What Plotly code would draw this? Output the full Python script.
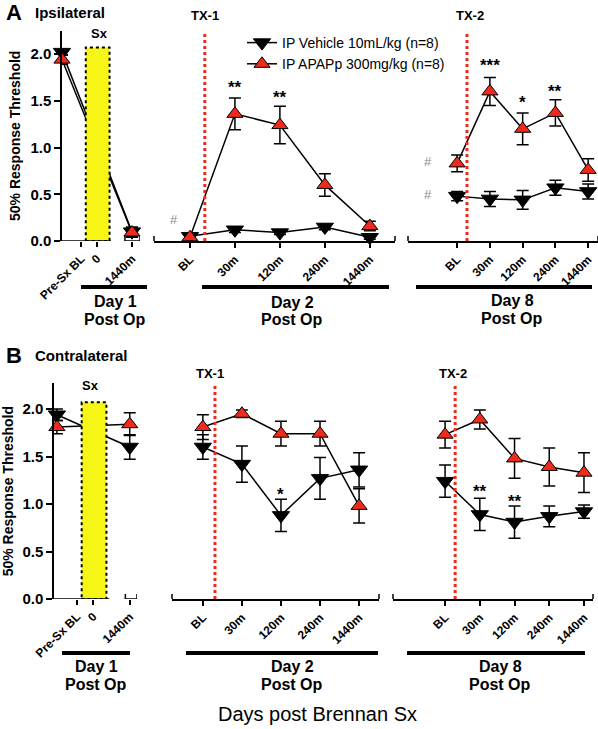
import plotly.graph_objects as go

W, H = 598, 729

# ---------------- data ----------------
SEG1_LABELS = ["Pre-Sx BL", "0", "1440m"]
TIME_CATS = ["BL", "30m", "120m", "240m", "1440m"]

# Panel A: Ipsilateral
A_S1_VEH = [2.02, 0.10]
A_S1_VEH_ERR = [0.03, 0.05]
A_S1_APAP = [1.94, 0.09]
A_S1_APAP_ERR = [0.05, 0.05]
A_D2_VEH = [0.05, 0.12, 0.09, 0.15, 0.04]
A_D2_VEH_ERR = [0.02, 0.03, 0.02, 0.03, 0.02]
A_D2_APAP = [0.04, 1.36, 1.24, 0.60, 0.16]
A_D2_APAP_ERR = [0.02, 0.17, 0.20, 0.12, 0.05]
A_D8_VEH = [0.48, 0.45, 0.44, 0.57, 0.53]
A_D8_VEH_ERR = [0.05, 0.08, 0.10, 0.08, 0.08]
A_D8_APAP = [0.83, 1.60, 1.20, 1.37, 0.76]
A_D8_APAP_ERR = [0.09, 0.15, 0.17, 0.14, 0.12]

# Panel B: Contralateral
B_S1_VEH = [1.94, 1.60]
B_S1_VEH_ERR = [0.06, 0.13]
B_S1_APAP = [1.81, 1.84]
B_S1_APAP_ERR = [0.07, 0.12]
B_D2_VEH = [1.60, 1.42, 0.88, 1.27, 1.36]
B_D2_VEH_ERR = [0.13, 0.19, 0.17, 0.22, 0.18]
B_D2_APAP = [1.81, 1.95, 1.74, 1.74, 0.98]
B_D2_APAP_ERR = [0.13, 0.04, 0.13, 0.13, 0.18]
B_D8_VEH = [1.24, 0.89, 0.81, 0.87, 0.92]
B_D8_VEH_ERR = [0.17, 0.17, 0.17, 0.11, 0.07]
B_D8_APAP = [1.73, 1.89, 1.48, 1.39, 1.33]
B_D8_APAP_ERR = [0.14, 0.10, 0.21, 0.20, 0.21]

VEH_NAME = "IP Vehicle 10mL/kg (n=8)"
APAP_NAME = "IP APAPp 300mg/kg (n=8)"

# ---------------- helpers ----------------
FONT = "Liberation Sans, Arial, sans-serif"
RED = "#ee2a1c"
YELLOW = "#f7f516"


def fx(px):
    return px / W


def fy(py):
    return 1 - py / H


# category positions on the first (surgery) segment
SEG1_POS = {"Pre-Sx BL": -1, "0": 0, "1440m": 1}
SEG1_TICKPOS = [-0.45, 0, 1]
S1_X = [SEG1_POS["Pre-Sx BL"], SEG1_POS["1440m"]]
SX_BOX = (-0.32, 0.36, 2.07)

fig = go.Figure()


def add_series(x, y, err, xa, ya, kind, show):
    if kind == "veh":
        marker = dict(symbol="triangle-down", size=15, color="black",
                      line=dict(color="black", width=1))
        name = VEH_NAME
    else:
        marker = dict(symbol="triangle-up", size=14, color=RED,
                      line=dict(color="black", width=1))
        name = APAP_NAME
    fig.add_trace(go.Scatter(
        x=x, y=y, mode="lines+markers", name=name,
        legendgroup=kind, showlegend=show,
        line=dict(color="black", width=1.5), marker=marker,
        error_y=dict(type="data", array=err, color="black",
                     thickness=1.5, width=6),
        xaxis=xa, yaxis=ya, cliponaxis=False))


def add_box(xa, ya):
    x0, x1, top = SX_BOX
    fig.add_trace(go.Scatter(
        x=[x0, x1, x1, x0, x0], y=[0, 0, top, top, 0], mode="lines",
        fill="toself", fillcolor=YELLOW,
        line=dict(color="black", width=2, dash="dot"),
        showlegend=False, hoverinfo="skip", xaxis=xa, yaxis=ya,
        cliponaxis=False))


# Panel A
add_series(S1_X, A_S1_VEH, A_S1_VEH_ERR, "x", "y", "veh", True)
add_series(S1_X, A_S1_APAP, A_S1_APAP_ERR, "x", "y", "apap", True)
add_box("x", "y")
add_series(TIME_CATS, A_D2_VEH, A_D2_VEH_ERR, "x2", "y", "veh", False)
add_series(TIME_CATS, A_D2_APAP, A_D2_APAP_ERR, "x2", "y", "apap", False)
add_series(TIME_CATS, A_D8_VEH, A_D8_VEH_ERR, "x3", "y", "veh", False)
add_series(TIME_CATS, A_D8_APAP, A_D8_APAP_ERR, "x3", "y", "apap", False)
# Panel B
add_series(S1_X, B_S1_VEH, B_S1_VEH_ERR, "x4", "y2", "veh", False)
add_series(S1_X, B_S1_APAP, B_S1_APAP_ERR, "x4", "y2", "apap", False)
add_box("x4", "y2")
add_series(TIME_CATS, B_D2_VEH, B_D2_VEH_ERR, "x5", "y2", "veh", False)
add_series(TIME_CATS, B_D2_APAP, B_D2_APAP_ERR, "x5", "y2", "apap", False)
add_series(TIME_CATS, B_D8_VEH, B_D8_VEH_ERR, "x6", "y2", "veh", False)
add_series(TIME_CATS, B_D8_APAP, B_D8_APAP_ERR, "x6", "y2", "apap", False)

tickfont = dict(family=FONT, size=12, color="black", weight="bold")
ytickfont = dict(family=FONT, size=15, color="black", weight="bold")


def seg1_axis(dom, rng, anchor):
    return dict(domain=[fx(dom[0]), fx(dom[1])], range=rng, anchor=anchor,
                type="linear", showline=False, showgrid=False, zeroline=False,
                automargin=False,
                tickmode="array", tickvals=SEG1_TICKPOS, ticktext=SEG1_LABELS,
                ticks="outside", ticklen=5, tickwidth=1.5, tickcolor="black",
                tickangle=-45, tickfont=tickfont)


def time_axis(dom, rng, anchor):
    return dict(domain=[fx(dom[0]), fx(dom[1])], range=rng, anchor=anchor,
                type="category", categoryorder="array", categoryarray=TIME_CATS,
                showline=True, linecolor="black", linewidth=1.5,
                showgrid=False, zeroline=False, automargin=False,
                ticks="outside", ticklen=5, tickwidth=1.5, tickcolor="black",
                tickangle=-45, tickfont=tickfont)


def y_axis(bottom_px, top_val, scale, anchor):
    top_px = bottom_px - top_val * scale
    return dict(domain=[fy(bottom_px), fy(top_px)], range=[0, top_val],
                anchor=anchor, showline=True, linecolor="black", linewidth=1.5,
                showgrid=False, zeroline=False, automargin=False,
                tickmode="array", tickvals=[0, 0.5, 1.0, 1.5, 2.0],
                ticktext=["0.0", "0.5", "1.0", "1.5", "2.0"],
                ticks="outside", ticklen=6, tickwidth=1.5, tickcolor="black",
                tickfont=ytickfont,
                title=dict(text="50% Response Threshold", standoff=6,
                           font=dict(family=FONT, size=14, color="black",
                                     weight="bold")))


A_TOP, B_TOP = 2.25, 2.27
fig.update_layout(
    xaxis=seg1_axis((62, 140), [-1, 1.23], "y"),
    xaxis2=time_axis((154, 395), [-0.8, 4.56], "y"),
    xaxis3=time_axis((408, 598), [-1.5, 4.3], "y"),
    xaxis4=seg1_axis((54, 137), [-1.08, 1.2], "y2"),
    xaxis5=time_axis((172, 379), [-0.79, 4.51], "y2"),
    xaxis6=time_axis((393, 593), [-1.5, 4.26], "y2"),
    yaxis=y_axis(241, A_TOP, 93.5, "x"),
    yaxis2=y_axis(599, B_TOP, 95, "x4"),
)

shapes = []


def hline_seg(xref, yref, x0, x1, caps=(True, True)):
    shapes.append(dict(type="line", xref=xref, yref=yref, x0=x0, x1=x1,
                       y0=0, y1=0, line=dict(color="black", width=1.5)))
    for c, xv in zip(caps, (x0, x1)):
        if c:
            shapes.append(dict(type="line", xref=xref, yref=yref,
                               ysizemode="pixel", yanchor=0, y0=-5, y1=5,
                               x0=xv, x1=xv,
                               line=dict(color="black", width=1.5)))


def cap_domain(xref, yref, xd):
    shapes.append(dict(type="line", xref=xref + " domain", yref=yref,
                       ysizemode="pixel", yanchor=0, y0=-5, y1=5,
                       x0=xd, x1=xd, line=dict(color="black", width=1.5)))


# surgery segment axis pieces
hline_seg("x", "y", -1, 0.4, caps=(False, False))
hline_seg("x", "y", 0.8, 1.23, caps=(True, True))
hline_seg("x4", "y2", -1.08, 0.44, caps=(False, False))
hline_seg("x4", "y2", 0.88, 1.2, caps=(True, True))
for xa, ya in (("x2", "y"), ("x3", "y"), ("x5", "y2"), ("x6", "y2")):
    cap_domain(xa, ya, 0)
    cap_domain(xa, ya, 1)

# treatment lines
for xa, ya, xv, top in (("x2", "y", 0.33, A_TOP), ("x3", "y", 0.3, A_TOP),
                        ("x5", "y2", 0.31, B_TOP), ("x6", "y2", 0.29, B_TOP)):
    shapes.append(dict(type="line", xref=xa, yref=ya, x0=xv, x1=xv,
                       y0=0, y1=top, layer="above",
                       line=dict(color=RED, width=3, dash="dot")))

# day bars below axes
for x0, x1, py in ((81, 147, 287), (202, 389, 287), (416, 592, 287),
                   (62, 130, 653), (186, 378, 653), (407, 585, 653)):
    shapes.append(dict(type="line", xref="paper", yref="paper",
                       x0=fx(x0), x1=fx(x1), y0=fy(py), y1=fy(py),
                       line=dict(color="black", width=4)))

fig.update_layout(shapes=shapes)

ann = []


def text(px, py, s, size, bold=True, color="black", xanchor="center"):
    ann.append(dict(x=fx(px), y=fy(py), xref="paper", yref="paper", text=s,
                    showarrow=False, xanchor=xanchor, yanchor="middle",
                    font=dict(family=FONT, size=size, color=color,
                              weight="bold" if bold else "normal")))


text(4, 13, "A", 22, xanchor="left")
text(33, 13, "Ipsilateral", 15, xanchor="left")
text(4, 356, "B", 22, xanchor="left")
text(33, 356, "Contralateral", 15, xanchor="left")
text(99, 34, "Sx", 13)
text(90, 386, "Sx", 13)
text(205, 16, "TX-1", 13)
text(470, 16, "TX-2", 13)
text(210, 373, "TX-1", 13)
text(453, 373, "TX-2", 13)
for cx, day, py in ((115, "Day 1", 301), (292, "Day 2", 302), (512, "Day 8", 300),
                    (96, "Day 1", 666), (292, "Day 2", 666), (500, "Day 8", 666)):
    text(cx, py, day, 16)
    text(cx, py + 18, "Post Op", 16)
text(317, 714, "Days post Brennan Sx", 20, bold=False)


def stars(xa, ya, cat, yv, s):
    ann.append(dict(x=cat, y=yv, xref=xa, yref=ya, text=s, showarrow=False,
                    yanchor="middle", yshift=-5,
                    font=dict(family=FONT, size=17, color="black",
                              weight="bold")))


stars("x2", "y", "30m", 1.69, "**")
stars("x2", "y", "120m", 1.59, "**")
stars("x3", "y", "30m", 1.93, "***")
stars("x3", "y", "120m", 1.54, "*")
stars("x3", "y", "240m", 1.65, "**")
stars("x5", "y2", "120m", 1.15, "*")
stars("x6", "y2", "30m", 1.18, "**")
stars("x6", "y2", "120m", 1.08, "**")


def hashmark(px, py):
    text(px, py, "#", 13, bold=False, color="#8a8a8a")


hashmark(174, 219)
hashmark(428, 161)
hashmark(428, 194)

fig.update_layout(annotations=ann)

fig.update_layout(
    width=W, height=H, autosize=False,
    margin=dict(l=0, r=0, t=0, b=0, autoexpand=False),
    paper_bgcolor="white", plot_bgcolor="white",
    font=dict(family=FONT, color="black"),
    showlegend=True,
    legend=dict(x=fx(242), y=fy(27), xanchor="left", yanchor="top",
                bgcolor="rgba(0,0,0,0)", tracegroupgap=0,
                font=dict(family=FONT, size=14, color="black"),
                itemwidth=30),
)

fig.write_html(
    "out.html",
    config={"displayModeBar": False},
    post_script="document.body.style.margin='0';document.body.style.overflow='hidden';",
)
